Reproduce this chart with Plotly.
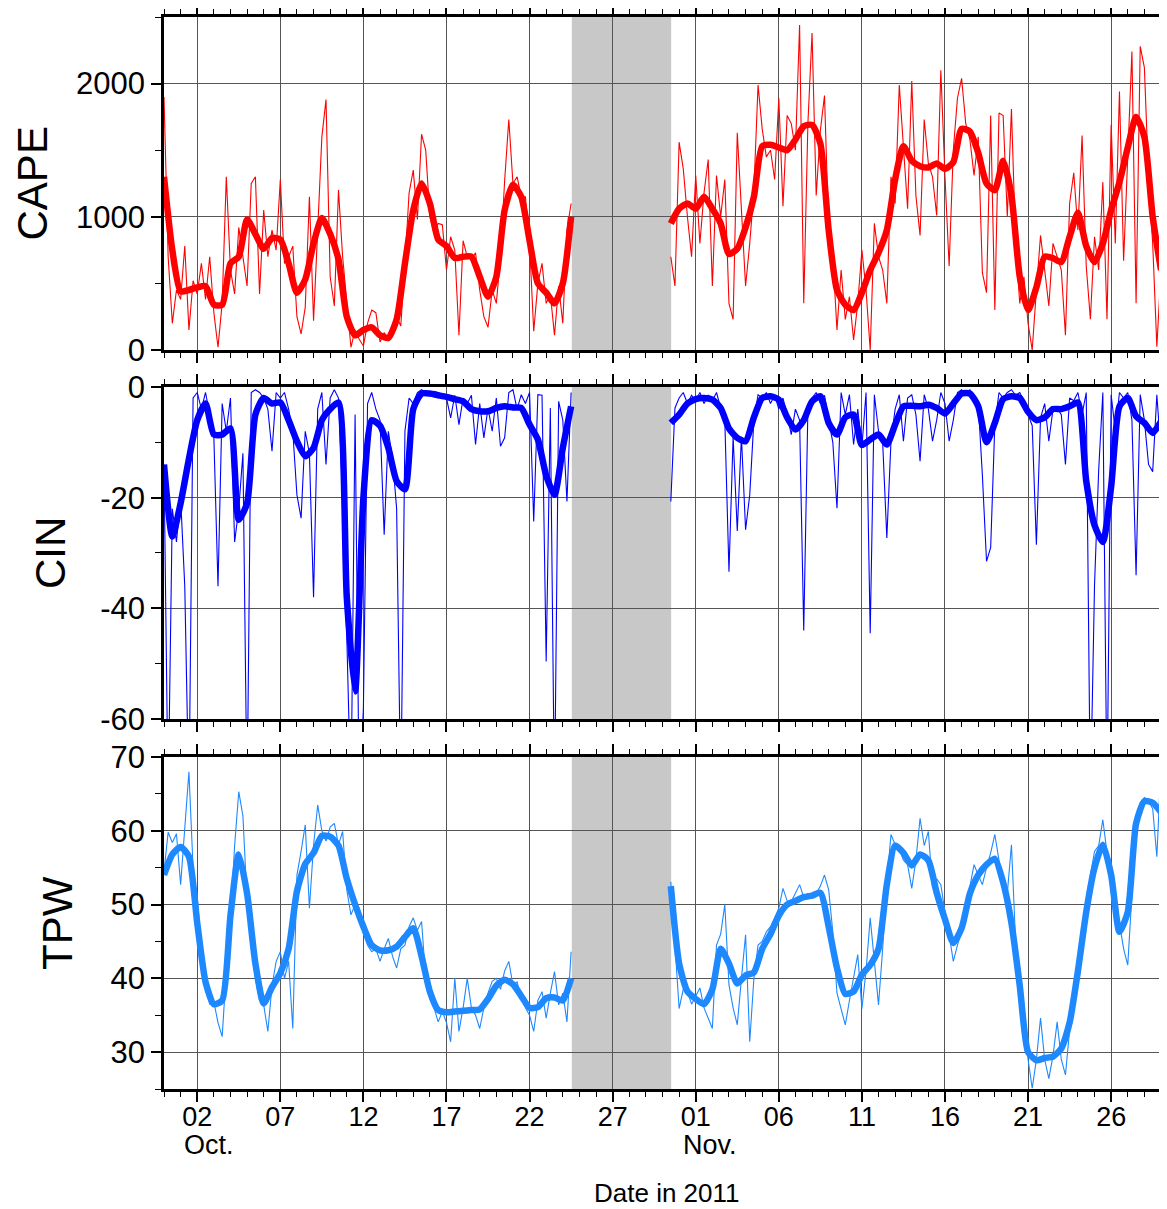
import pandas as pd
import plotly.graph_objects as go

# ---- time layout -------------------------------------------------------
SEG1_START = "2011-09-30 00:00"   # first segment of the record
SEG2_START = "2011-10-30 12:00"   # record resumes after the gap
THIN_STEP = "6h"
THICK_STEP = "12h"
GAP_START = "2011-10-24 13:00"
GAP_END = "2011-10-30 12:30"
X_RANGE = ["2011-09-30 00:00", "2011-11-29 00:00"]
FIRST_TICK = "2011-10-02"
MONTH_LABELS = [("2011-10-02", "Oct."), ("2011-11-01", "Nov.")]

# ---- CAPE ---------------------------------------------------------------
cape_ticks = [0, 1000, 2000]
cape_thin_1 = [
    1900, 700, 200, 450, 380, 780, 150, 520,
    420, 650, 380, 700, 280, 20, 350, 1300,
    600, 420, 920, 700, 480, 1250, 1300, 420,
    1050, 700, 900, 750, 1280, 650, 700, 780,
    250, 120, 320, 1150, 220, 900, 1600, 1880,
    550, 330, 1200, 700, 380, 20, 150, 80,
    30, 200, 300, 280, 60, 130, 80, 120,
    250, 180, 650, 1180, 1350, 980, 1620, 1500,
    1000, 880, 950, 940, 600, 850, 750, 110,
    820, 700, 680, 730, 450, 250, 170, 450,
    350, 700, 1270, 1730, 1250, 1300, 1150, 1150,
    800, 140, 500, 650, 350, 420, 110, 480,
    200, 900, 1100,
]
cape_thin_2 = [
    700, 480,
    1560, 1360, 1000, 700, 1310, 800, 1180, 1430,
    480, 1310, 1000, 1280, 350, 230, 1630, 1000,
    480, 800, 1200, 1990, 1660, 1450, 1500, 1280,
    1890, 1080, 1760, 1700, 1500, 2440, 350, 1700,
    2380, 1160, 1650, 1910, 900, 700, 150, 600,
    230, 400, 75, 350, 750, 450, 0, 950,
    700, 600, 350, 1300, 1100, 1990, 1500, 1060,
    2020, 1160, 860, 1730, 1400, 1300, 1010, 2100,
    1300, 630, 1500, 1890, 2040, 1700, 1580, 1310,
    1600, 580, 430, 1760, 300, 1780, 1760, 1000,
    1810, 800, 350, 550, 200, 0, 450, 860,
    600, 330, 800, 700, 600, 110, 1100, 1330,
    900, 1610, 630, 230, 850, 600, 1260, 230,
    1690, 800, 1940, 670, 1500, 2240, 350, 2280,
    2120, 1300, 800, 25, 600,
]
cape_thick_1 = [
    1300, 750, 440, 450, 470, 480, 340, 340, 650, 700,
    980, 870, 760, 840, 830, 650, 430, 530, 800, 990,
    870, 680, 250, 110, 150, 170, 110, 90, 230, 650,
    1050, 1250, 1100, 830, 780, 690, 700, 700, 550, 400,
    550, 1050, 1240, 1150, 820, 500, 430, 350, 500, 1000,
]
cape_thick_2 = [
    950, 1060, 1100, 1060, 1150, 1060, 950, 720, 760, 920,
    1150, 1530, 1540, 1520, 1500, 1580, 1680, 1690, 1550, 900,
    450, 340, 300, 430, 600, 730, 900, 1280, 1530, 1420,
    1380, 1370, 1400, 1360, 1410, 1660, 1640, 1480, 1250, 1200,
    1420, 1160, 550, 300, 470, 700, 690, 660, 850, 1030,
    780, 660, 800, 1050, 1260, 1520, 1750, 1600, 1000, 600,
]

# ---- CIN ----------------------------------------------------------------
cin_ticks = [0, -20, -40, -60]
cin_thin_1 = [
    -14, -75, -22, -28, -20, -36, -75, -2,
    -1, -4, -1, -5, -9, -36, -3, -8,
    -2, -28, -22, -12, -75, -1, -0.5, -1,
    -2, -4, -11.6, -1, -2, -1, -4, -8,
    -19.5, -23.7, -8, -12, -38, -4, -1, -14,
    -2, -0.5, -2, -20, -45, -75, -5, -75,
    -58, -3, -1, -4, -6, -26.7, -8, -12.8,
    -22, -75, -8, -2, -3, -1, -0.5, -1,
    -1.5, -0.8, -1, -1.5, -2, -5.6, -1.5, -6.8,
    -2, -3, -1.5, -10.4, -3, -9.2, -3.8, -8,
    -2, -10.7, -9.2, -1, -0.5, -4, -1.4, -3,
    -1, -24.3, -1.4, -1.5, -49.6, -3.8, -75, -2.6,
    -6, -20.7, -1,
]
cin_thin_2 = [
    -20.7, -3.8,
    -2, -1, -3, -1.5, -2.5, -1, -3, -1.5,
    -2.5, -1, -3.8, -6, -33.4, -9, -26, -9,
    -25.8, -19.5, -6, -1.4, -2, -1, -3, -1.5,
    -4, -2, -5, -8.6, -4, -6, -44, -4,
    -2, -1, -3, -1.5, -6, -10, -21.9, -1,
    -5, -1.4, -10.4, -4, -10.8, -1, -44.5, -1.4,
    -8, -10, -27.3, -9.8, -4, -1.4, -9.8, -2,
    -1.4, -5, -13.4, -1.4, -4, -9.8, -6, -1,
    -3, -9.8, -6, -1, -0.5, -1.5, -0.5, -2,
    -3, -15.9, -31.5, -29, -6.8, -1, -2, -1,
    -0.5, -1.5, -1, -2.5, -5, -7, -28.5, -5.6,
    -3, -9.8, -4, -3.8, -5, -14, -2, -2.5,
    -1, -5, -1, -75, -35.8, -15, -1, -75,
    -1.4, -8, -1, -2, -1, -6, -34, -1.4,
    -6, -14, -15.3, -1.4, -12,
]
cin_thick_1 = [
    -14, -27, -21, -13, -6, -3, -8.6, -8.6, -7.5, -24,
    -21, -5, -2, -3, -2.8, -6, -9.8, -12.5, -11, -6,
    -4, -2.8, -38, -55, -20, -6, -7, -11, -17, -18.5,
    -4, -1.2, -1.2, -1.5, -1.8, -2.2, -2.6, -4, -4.4, -4.4,
    -3.8, -3.5, -3.7, -3.8, -6.8, -9.5, -16, -19.5, -11, -3.5,
]
cin_thick_2 = [
    -6.5, -5, -3, -2.2, -2, -2.3, -3.8, -7.5, -9.2, -9.8,
    -5.5, -2, -1.7, -2.3, -5.5, -7.7, -6, -2.6, -1.7, -6.5,
    -8.6, -5.5, -5, -10.5, -9.5, -8.6, -10.4, -6.8, -3.5, -3.4,
    -3.5, -3.2, -3.8, -4.8, -3, -1.2, -1.2, -3.5, -10, -6.5,
    -2.2, -1.7, -2, -4.5, -6, -5.5, -4, -4, -3.5, -2.8,
    -17, -25, -28, -18, -3.5, -2, -5.3, -6.5, -8.3, -6.2,
]

# ---- TPW ----------------------------------------------------------------
tpw_ticks = [30, 40, 50, 60, 70]
tpw_thin_1 = [
    54.5, 59.8, 58.4, 59.6, 52.7, 60, 68, 55,
    50.9, 44, 38.7, 36.5, 36.8, 34, 32.1, 41,
    48, 58, 65.3, 62, 50.4, 46.3, 40, 37,
    36.4, 32.8, 39, 42.3, 43.6, 40, 42.3, 33.2,
    54, 57.2, 60.8, 49.5, 58, 63.5, 60, 58.6,
    60.5, 61, 58.1, 59.9, 52, 48.6, 50, 49.5,
    46, 44.5, 43.6, 44, 42.3, 44, 45.4, 43,
    41.4, 44, 44.5, 47, 48.2, 46.5, 47.7, 40,
    37.3, 36, 34.1, 35.5, 34, 31.4, 40, 32.8,
    36, 40, 36, 35, 33.2, 36, 38, 39.6,
    40, 38.5, 41, 42.3, 39.1, 39.5, 37.3, 36,
    35, 32.8, 37, 38.2, 34.6, 38, 40.9, 36.4,
    38, 34.1, 43.6,
]
tpw_thin_2 = [
    53.1, 44,
    35.9, 38.5, 38.2, 36.5, 37.5, 38.7, 36, 34.5,
    33.2, 44.5, 46, 50, 39.1, 36, 33.7, 40,
    45.9, 31.4, 40, 44.5, 45, 46.3, 47, 48.2,
    49.5, 52.2, 50.5, 50.4, 51.5, 52.7, 51, 51.5,
    50.9, 51.5, 52.5, 54, 52, 46.3, 38, 35.9,
    33.7, 37, 40, 43.2, 35.9, 41, 48.2, 42.3,
    36.4, 44, 53, 59.5, 58.1, 57.5, 56, 55.4,
    52.2, 56, 61.7, 58, 59.9, 52.2, 53.5, 52.7,
    49, 46, 42.3, 44.5, 46.3, 49.5, 52.5, 55.4,
    54, 52.7, 55, 57, 59.5, 56, 53.5, 51.5,
    58.1, 45, 39, 34, 29, 25.1, 29, 34.6,
    29, 26.4, 29.5, 34.1, 29, 26.9, 33, 37,
    41, 45, 49, 54, 57.2, 58, 61.5, 57,
    55, 51, 47.5, 44, 41.8, 52, 61, 63.8,
    64.5, 64, 63, 56.5, 69,
]
tpw_thick_1 = [
    54, 56.8, 57.8, 56.5, 47.5, 39.5, 36.5, 37, 48.5, 56.8,
    51.5, 42, 36.6, 38.8, 40.7, 44, 51.8, 55.5, 57, 59.3,
    59.2, 58, 53.5, 50, 47, 44.5, 43.8, 43.8, 44.3, 45.6,
    46.8, 43, 38.2, 35.7, 35.4, 35.5, 35.6, 35.7, 35.8, 37.2,
    39, 39.8, 39.2, 37.6, 36, 36.1, 37.3, 37.4, 37, 40,
]
tpw_thick_2 = [
    52.5, 42, 38.2, 37.2, 36.5, 38.5, 44, 42, 39.3, 40.4,
    40.8, 44, 46, 48.5, 50, 50.5, 51, 51.2, 51.6, 47,
    41.4, 37.9, 38.2, 40.5, 41.8, 44, 52.7, 58, 57, 55.3,
    56.8, 56, 51.6, 48, 44.8, 46.8, 51.5, 54, 55.4, 56.2,
    53, 47.5, 39, 30, 28.9, 29.2, 29.4, 30.5, 34, 41,
    49, 55, 58.1, 54, 46.3, 49, 61, 64, 63.8, 62.5,
]

FONT = "Liberation Sans, Arial, sans-serif"
DAY_MS = 86400000


def _series(seg1, seg2, step):
    """Join the two record segments with a break (None) over the gap."""
    t1 = pd.date_range(SEG1_START, periods=len(seg1), freq=step)
    t2 = pd.date_range(SEG2_START, periods=len(seg2), freq=step)
    x = [t.strftime("%Y-%m-%d %H:%M") for t in t1] + [None] + \
        [t.strftime("%Y-%m-%d %H:%M") for t in t2]
    y = list(seg1) + [None] + list(seg2)
    return x, y


panels = [
    dict(label="CAPE", thin=(cape_thin_1, cape_thin_2),
         thick=(cape_thick_1, cape_thick_2), color="#ff0000",
         yrange=[0, 2500], ticks=cape_ticks, minor=500, label_px=32),
    dict(label="CIN", thin=(cin_thin_1, cin_thin_2),
         thick=(cin_thick_1, cin_thick_2), color="#0000ff",
         yrange=[-60, 0], ticks=cin_ticks, minor=10, label_px=50),
    dict(label="TPW", thin=(tpw_thin_1, tpw_thin_2),
         thick=(tpw_thick_1, tpw_thick_2), color="#1e88ff",
         yrange=[25, 70], ticks=tpw_ticks, minor=5, label_px=57),
]

# panel domains (paper fractions, top panel first)
domains = [[0.6894, 1.0], [0.3451, 0.6549], [0.0, 0.3097]]

fig = go.Figure()
annotations = []
shapes = []
for i, (p, dom) in enumerate(zip(panels, domains), start=1):
    sfx = "" if i == 1 else str(i)
    xa, ya = f"x{sfx}", f"y{sfx}"
    xt, yt = _series(*p["thin"], THIN_STEP)
    xk, yk = _series(*p["thick"], THICK_STEP)
    fig.add_trace(go.Scatter(x=xt, y=yt, mode="lines", xaxis=xa, yaxis=ya,
                             line=dict(color=p["color"], width=1.1),
                             showlegend=False, connectgaps=False))
    fig.add_trace(go.Scatter(x=xk, y=yk, mode="lines", xaxis=xa, yaxis=ya,
                             line=dict(color=p["color"], width=6.5,
                                       shape="spline", smoothing=0.6),
                             showlegend=False, connectgaps=False))

    shapes.append(dict(type="rect", xref=xa, yref=f"{ya} domain",
                       x0=GAP_START, x1=GAP_END, y0=0, y1=1,
                       fillcolor="#c8c8c8", line=dict(width=0),
                       layer="below"))

    fig.layout[f"xaxis{sfx}"] = dict(
        domain=[0, 1], anchor=ya, type="date", range=X_RANGE,
        automargin=False,
        tick0=FIRST_TICK, dtick=5 * DAY_MS, tickformat="%d",
        ticks="outside", ticklen=10, tickwidth=1.5, tickcolor="black",
        ticklabelstandoff=-8,
        minor=dict(dtick=DAY_MS, ticks="outside", ticklen=5,
                   tickwidth=1, tickcolor="black", showgrid=False),
        showgrid=True, gridcolor="#555555", gridwidth=1,
        showline=True, linecolor="black", linewidth=2.5, mirror="ticks",
        showticklabels=(i == 3), zeroline=False,
        tickfont=dict(size=27, color="black", family=FONT),
    )
    fig.layout[f"yaxis{sfx}"] = dict(
        domain=dom, anchor=xa, range=p["yrange"], automargin=False,
        tickmode="array", tickvals=p["ticks"],
        ticktext=[str(v) for v in p["ticks"]],
        ticks="outside", ticklen=10, tickwidth=1.5, tickcolor="black",
        minor=dict(dtick=p["minor"], ticks="outside", ticklen=6,
                   tickwidth=1, tickcolor="black", showgrid=False),
        showgrid=True, gridcolor="#555555", gridwidth=1,
        showline=True, linecolor="black", linewidth=2.5, mirror="ticks",
        zeroline=False,
        tickfont=dict(size=31, color="black", family=FONT),
    )
    annotations.append(dict(
        text=p["label"], xref="paper", yref="paper",
        x=(p["label_px"] - 164) / 997, y=(dom[0] + dom[1]) / 2,
        xanchor="center", yanchor="middle", textangle=-90, showarrow=False,
        font=dict(size=42, color="black", family=FONT)))

for day, name in MONTH_LABELS:
    annotations.append(dict(
        text=name, xref="x3", yref="paper", x=day, y=-0.052,
        xanchor="left", yanchor="middle", xshift=-15, showarrow=False,
        font=dict(size=27, color="black", family=FONT)))

annotations.append(dict(
    text="Date in 2011", xref="paper", yref="paper", x=0.505, y=-0.097,
    xanchor="center", yanchor="middle", showarrow=False,
    font=dict(size=26, color="black", family=FONT)))

# the page body adds an 8 px margin, so the figure is 8 px smaller
fig.update_layout(
    width=1159, height=1201,
    margin=dict(l=156, r=6, t=9, b=120),
    plot_bgcolor="white", paper_bgcolor="white",
    font=dict(family=FONT, color="black"),
    shapes=shapes, annotations=annotations,
    showlegend=False,
)

fig.write_html("out.html")
